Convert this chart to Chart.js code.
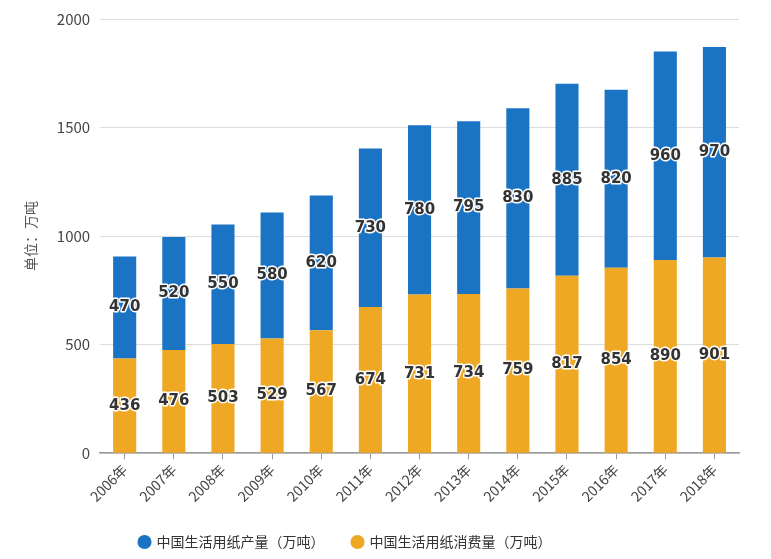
<!DOCTYPE html>
<html>
<head>
<meta charset="utf-8">
<script src="https://cdn.jsdelivr.net/npm/chart.js@4/dist/chart.umd.min.js"></script>
<style>
  html, body { margin: 0; padding: 0; background: #fff; }
  #wrap { width: 771px; height: 559px; position: relative; }
</style>
</head>
<body>
<div id="wrap"><canvas id="paperChart"></canvas></div>
<script>
// data
const years = ['2006年', '2007年', '2008年', '2009年', '2010年', '2011年', '2012年',
  '2013年', '2014年', '2015年', '2016年', '2017年', '2018年'];
const consumption = [436, 476, 503, 529, 567, 674, 731, 734, 759, 817, 854, 890, 901];
const production = [470, 520, 550, 580, 620, 730, 780, 795, 830, 885, 820, 960, 970];
const yTicks = [0, 500, 1000, 1500, 2000];

const FONT = '"Noto Sans CJK SC", "Noto Sans", sans-serif';

// value labels drawn in the middle of each segment, dark text with white halo
const segmentLabels = {
  id: 'segmentLabels',
  afterDatasetsDraw(chart) {
    const ctx = chart.ctx;
    ctx.save();
    ctx.font = 'bold 15px "DejaVu Sans", sans-serif';
    ctx.textAlign = 'center';
    ctx.textBaseline = 'middle';
    ctx.lineJoin = 'round';
    chart.data.datasets.forEach((ds, i) => {
      chart.getDatasetMeta(i).data.forEach((bar, j) => {
        const y = (bar.y + bar.base) / 2;
        const txt = String(ds.data[j]);
        ctx.lineWidth = 3;
        ctx.strokeStyle = '#ffffff';
        ctx.strokeText(txt, bar.x, y);
        ctx.fillStyle = '#333333';
        ctx.fillText(txt, bar.x, y);
      });
    });
    ctx.restore();
  }
};

// the legend in the picture sits left of the canvas centre
const legendShift = {
  id: 'legendShift',
  beforeDraw(chart) {
    const lg = chart.legend;
    if (lg && !lg._shifted) {
      lg.left -= 33;
      lg.right -= 33;
      lg._shifted = true;
    }
  }
};

new Chart(document.getElementById('paperChart').getContext('2d'), {
  type: 'bar',
  data: {
    labels: years,
    datasets: [
      {
        label: '中国生活用纸消费量（万吨）',
        data: consumption,
        backgroundColor: '#efa823',
        stack: 's'
      },
      {
        label: '中国生活用纸产量（万吨）',
        data: production,
        backgroundColor: '#1b73c4',
        stack: 's'
      }
    ]
  },
  options: {
    responsive: true,
    maintainAspectRatio: false,
    animation: false,
    layout: { padding: { top: 12, right: 32, left: 18, bottom: 0 } },
    datasets: { bar: { barPercentage: 0.94, categoryPercentage: 0.5 } },
    plugins: {
      legend: {
        position: 'bottom',
        reverse: true,
        labels: {
          usePointStyle: true,
          pointStyle: 'circle',
          boxWidth: 10,
          boxHeight: 10,
          padding: 28,
          color: '#333',
          font: { family: FONT, size: 14 }
        }
      },
      tooltip: { enabled: false }
    },
    scales: {
      x: {
        stacked: true,
        grid: { offset: false, drawOnChartArea: false, tickLength: 6, color: '#999' },
        border: { color: '#999', width: 1.5 },
        ticks: {
          maxRotation: 45,
          minRotation: 45,
          color: '#444',
          font: { family: FONT, size: 14 },
          padding: 2
        }
      },
      y: {
        stacked: true,
        min: 0,
        max: 2000,
        afterBuildTicks(axis) { axis.ticks = yTicks.map(v => ({ value: v })); },
        grid: { color: '#dddddd', drawTicks: false },
        border: { display: false },
        ticks: {
          color: '#444',
          padding: 10,
          font: { family: FONT, size: 15 },
          callback: v => String(v)
        },
        title: {
          display: true,
          text: '单位：万吨',
          color: '#555',
          padding: { bottom: 8 },
          font: { family: FONT, size: 14 }
        }
      }
    }
  },
  plugins: [segmentLabels, legendShift]
});
</script>
</body>
</html>
